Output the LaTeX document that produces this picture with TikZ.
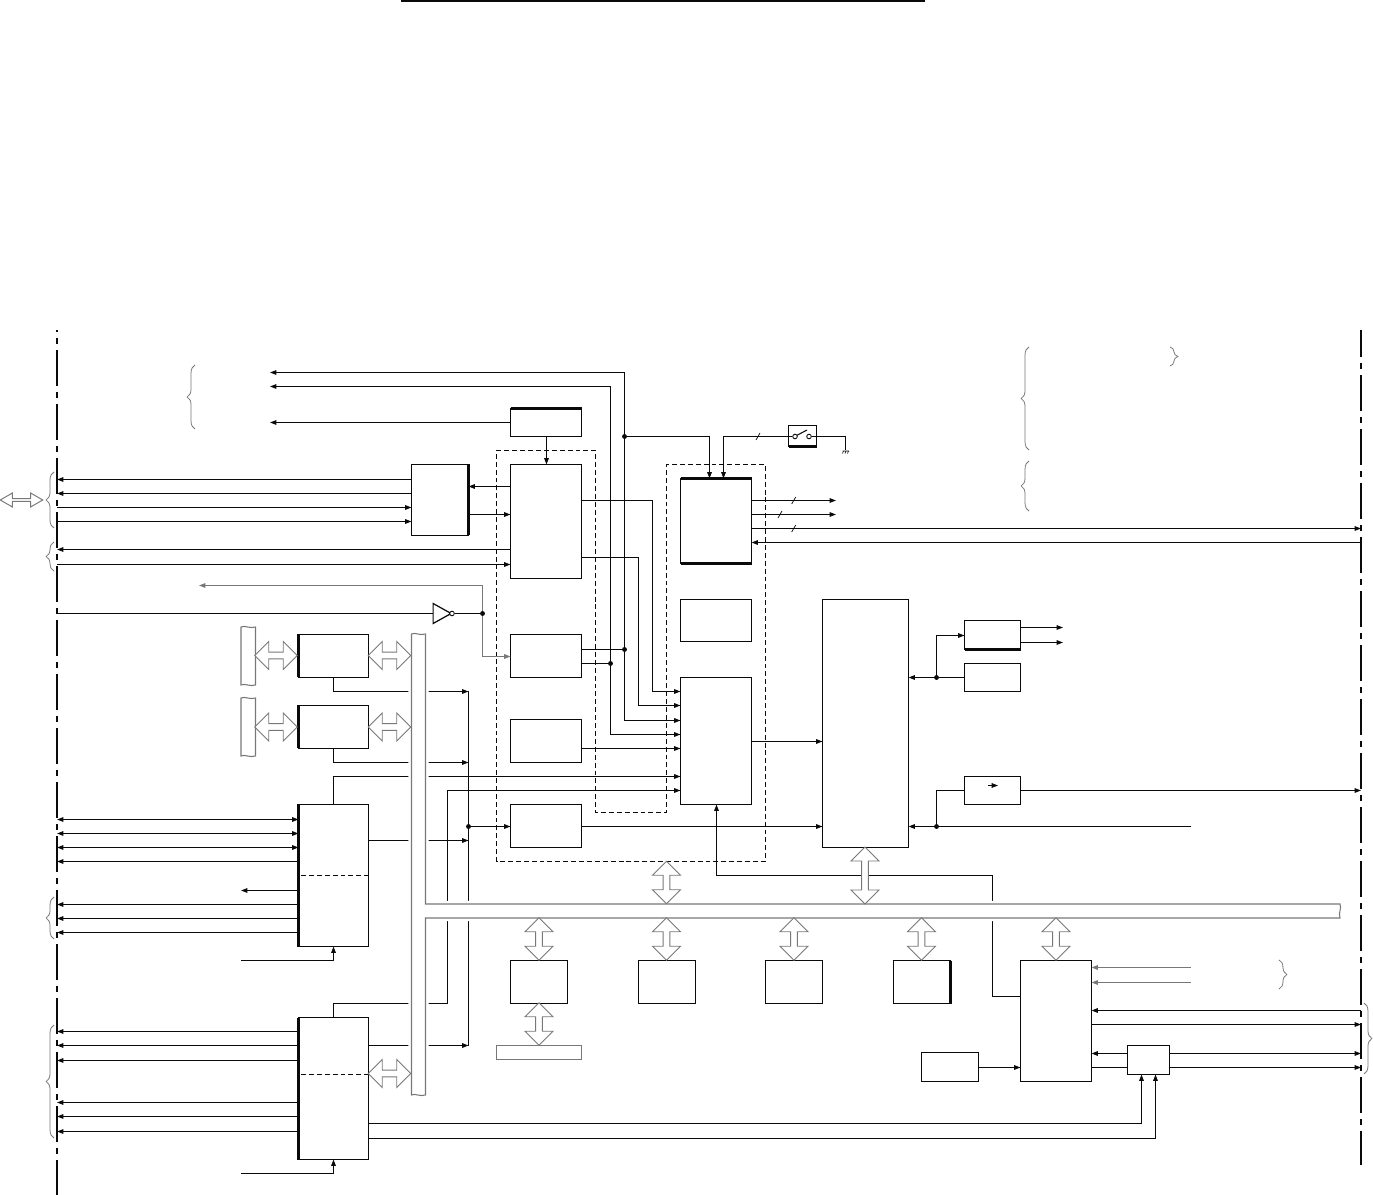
\documentclass[tikz,border=0pt]{standalone}
\usepackage{xcolor}
\definecolor{wireblack}{RGB}{10, 10, 10}
\definecolor{busgray}{RGB}{120, 120, 120}
\usepackage{tikz}
\usetikzlibrary{arrows.meta, shapes.arrows, shapes.geometric, decorations.pathreplacing}
\tikzset{
    blockbox/.style 2 args={draw=wireblack, line width=0.62pt, inner sep=0pt, outer sep=0pt, anchor=north west, minimum width=#1*0.02cm, minimum height=#2*0.02cm},
    edgeline/.style={line width=1.2pt, wireblack},
    wire/.style={line width=0.62pt, wireblack},
    graywire/.style={line width=0.62pt, busgray},
    jdot/.style={circle, fill=wireblack, inner sep=0pt, minimum size=2.8pt},
    swpin/.style={circle, draw=wireblack, fill=white, line width=0.5pt, inner sep=0pt, minimum size=2.6pt},
    dashzone/.style={line width=0.55pt, wireblack, dash pattern=on 2.8pt off 1.7pt},
    railline/.style={line width=1.13pt, wireblack, dash pattern=on 0.72cm off 0.12cm on 0.12cm off 0.12cm},
    curly/.style={draw=busgray, line width=0.45pt, decorate, decoration={brace, amplitude=4.5pt}},
    busarrow/.style={double arrow, draw=busgray, fill=white, line width=0.55pt, inner sep=0pt, double arrow head extend=0.03cm, minimum width=0.56cm, minimum height=0.85cm},
    busline/.style={draw=busgray, fill=white, line width=0.6pt},
}
\newcommand{\slashat}[2]{\draw[line width=0.4pt, wireblack] (#1-2,#2+3.5) -- (#1+2,#2-3.5);}

\begin{document}
\begin{tikzpicture}[x=0.02cm, y=-0.02cm, >={Stealth[length=3.6pt, width=2.6pt, inset=0pt]}]
    \useasboundingbox (0,0) rectangle (1373,1195);

    \coordinate (rail) at (57,0);
    \coordinate (railr) at (1361,0);
    \coordinate (tipa) at (270,0);
    \coordinate (tipb) at (241,0);
    \coordinate (tipc) at (836,0);
    \coordinate (tipd) at (1063,0);
    \coordinate (tipe) at (1191,0);
    \coordinate (tipf) at (199,0);
    \coordinate (feeda) at (610.5,0);
    \coordinate (feedb) at (624.5,0);
    \coordinate (feedc) at (468.5,0);
    \coordinate (feedd) at (447.5,0);
    \coordinate (feede) at (638.5,0);
    \coordinate (feedf) at (652.5,0);
    \coordinate (feedh) at (992.5,0);
    \coordinate (feedi) at (716.5,0);

    \node[blockbox={57}{71}] (ifbox) at (411.5,464.5) {};
    \node[blockbox={70}{43}] (roma) at (298.5,634.5) {};
    \node[blockbox={70}{43}] (romb) at (298.5,705.5) {};
    \node[blockbox={70}{142}] (cbox) at (298.5,804.5) {};
    \node[blockbox={70}{142}] (dbox) at (298.5,1017.5) {};
    \node[blockbox={71}{28}] (topbox) at (510.5,408.5) {};
    \node[blockbox={71}{114}] (cpu) at (510.5,464.5) {};
    \node[blockbox={71}{43}] (pbox) at (510.5,634.5) {};
    \node[blockbox={71}{43}] (sbox) at (510.5,719.5) {};
    \node[blockbox={71}{43}] (qbox) at (510.5,804.5) {};
    \node[blockbox={71}{85}] (ctrlbox) at (680.5,478.5) {};
    \node[blockbox={71}{42}] (nbox) at (680.5,599.5) {};
    \node[blockbox={71}{127}] (mbox) at (680.5,677.5) {};
    \node[blockbox={86}{248}] (large) at (822.5,599.5) {};
    \node[blockbox={56}{29}] (fbox) at (964.5,620.5) {};
    \node[blockbox={56}{28}] (gbox) at (964.5,663.5) {};
    \node[blockbox={56}{28}] (hbox) at (964.5,776.5) {};
    \node[blockbox={57}{43}] (rowa) at (510.5,960.5) {};
    \node[blockbox={57}{43}] (rowb) at (638.5,960.5) {};
    \node[blockbox={57}{43}] (rowc) at (765.5,960.5) {};
    \node[blockbox={57}{43}] (rowd) at (893.5,960.5) {};
    \node[blockbox={85}{14}, draw=busgray] (strip) at (496.5,1045.5) {};
    \node[blockbox={71}{121}] (iobox) at (1020.5,960.5) {};
    \node[blockbox={57}{29}] (clkbox) at (921.5,1052.5) {};
    \node[blockbox={42}{29}] (muxbox) at (1127.5,1045.5) {};
    \node[blockbox={28}{21}] (swbox) at (788.5,425.5) {};

    \draw[edgeline] (ifbox.north east) -- (ifbox.south east);
    \draw[edgeline] (topbox.north west) -- (topbox.north east);
    \draw[edgeline] (ctrlbox.north west) -- (ctrlbox.north east);
    \draw[edgeline] (ctrlbox.south west) -- (ctrlbox.south east);
    \draw[edgeline] (swbox.south west) -- (swbox.south east);
    \draw[edgeline] (fbox.south west) -- (fbox.south east);
    \draw[edgeline] (roma.north west) -- (roma.south west);
    \draw[edgeline] (romb.north west) -- (romb.south west);
    \draw[edgeline] (cbox.north west) -- (cbox.south west);
    \draw[edgeline] (dbox.north west) -- (dbox.south west);
    \draw[edgeline] (rowd.north east) -- (rowd.south east);
    \draw[dashzone] (301,875.5) -- (cbox.east |- 0,875.5);
    \draw[dashzone] (301,1074.5) -- (dbox.east |- 0,1074.5);
    \draw[dashzone] (496.5,450.5) -- (595.5,450.5) -- (595.5,812.5) -- (666.5,812.5) -- (666.5,464.5) -- (765.5,464.5) -- (765.5,861.5) -- (496.5,861.5) -- cycle;

    \draw[railline, dash phase=0.68cm] (57,330) -- (57,1195);
    \draw[railline, dash phase=0.18cm] (1361,330) -- (1361,1165);
    \draw[line width=1pt, wireblack] (401,1) -- (925,1);

    \draw[curly] (195,429) -- (195,365);
    \draw[curly] (54,528) -- (54,472);
    \draw[curly] (54,571) -- (54,542);
    \draw[curly] (54,939) -- (54,897);
    \draw[curly] (54,1138) -- (54,1025);
    \draw[curly] (1029,450) -- (1029,347);
    \draw[curly] (1029,511) -- (1029,461);
    \draw[curly] (1170,347) -- (1170,366);
    \draw[curly] (1279,960) -- (1279,989);
    \draw[curly] (1364,1003) -- (1364,1074);

    \node[jdot] (dotba) at (624.5,436.5) {};
    \node[jdot] (dotbb) at (624.5,649.5) {};
    \node[jdot] (dotaa) at (610.5,663.5) {};
    \node[jdot] (dotc) at (468.5,826.5) {};
    \node[jdot] (dotd) at (482.5,613.5) {};
    \node[jdot] (dote) at (936.5,677.5) {};
    \node[jdot] (dotf) at (936.5,826.5) {};
    \node[swpin] (swa) at (795,436.5) {};
    \node[swpin] (swb) at (809,436.5) {};
    \coordinate (gnd) at (845.5,450);

    \node[draw=wireblack, fill=white, line width=0.7pt, isosceles triangle, isosceles triangle stretches, inner sep=0pt, minimum width=0.4cm, minimum height=0.36cm, anchor=lower side] (inv) at (432.5,613.5) {};
    \node[swpin] (invb) at (452,613.5) {};

    \draw[<->, wire] (tipa |- 0,372.5) -- (feedb |- 0,372.5) -- (feedb |- 0,720.5) -- (mbox.west |- 0,720.5);
    \draw[<->, wire] (tipa |- 0,386.5) -- (feeda |- 0,386.5) -- (feeda |- 0,734.5) -- (mbox.west |- 0,734.5);
    \draw[<-, wire] (tipa |- 0,422.5) -- (topbox.west |- 0,422.5);
    \draw[->, wire] (topbox.south -| 546.5,0) -- (cpu.north -| 546.5,0);

    \draw[<-, wire] (rail |- 0,479.5) -- (ifbox.west |- 0,479.5);
    \draw[<-, wire] (rail |- 0,493.5) -- (ifbox.west |- 0,493.5);
    \draw[->, wire] (rail |- 0,507.5) -- (ifbox.west |- 0,507.5);
    \draw[->, wire] (rail |- 0,521.5) -- (ifbox.west |- 0,521.5);
    \draw[<-, wire] (ifbox.east |- 0,486.5) -- (cpu.west |- 0,486.5);
    \draw[->, wire] (ifbox.east |- 0,514.5) -- (cpu.west |- 0,514.5);
    \draw[<-, wire] (rail |- 0,549.5) -- (cpu.west |- 0,549.5);
    \draw[->, wire] (rail |- 0,564.5) -- (cpu.west |- 0,564.5);

    \draw[wire] (rail |- 0,613.5) -- (inv.lower side);
    \draw[wire] (invb) -- (dotd);
    \draw[->, graywire] (dotd) |- (tipf |- 0,585.5);
    \draw[->, graywire] (dotd) |- (pbox.west |- 0,656.5);

    \draw[->, wire] (cpu.east |- 0,500.5) -| (feedf |- 0,691.5) -- (mbox.west |- 0,691.5);
    \draw[->, wire] (cpu.east |- 0,557.5) -| (feede |- 0,705.5) -- (mbox.west |- 0,705.5);
    \draw[wire] (pbox.east |- dotbb) -- (dotbb);
    \draw[wire] (pbox.east |- dotaa) -- (dotaa);
    \draw[->, wire] (sbox.east |- 0,748.5) -- (mbox.west |- 0,748.5);
    \draw[->, wire] (dotba) -| (ctrlbox.north -| 709.5,0);
    \draw[->, wire] (swa) -| (ctrlbox.north -| 723.5,0);
    \draw[wire] (swb) -| (gnd);
    \draw[line width=0.6pt, wireblack] (797,435.3) -- (807,430);
    \draw[line width=0.35pt, wireblack] (842.5,451) -- (849,451) (843.5,451) -- (842.5,453.5) (846,451) -- (845,453.5) (848.5,451) -- (847.5,453.5);

    \draw[->, wire] (ctrlbox.east |- 0,500.5) -- (tipc |- 0,500.5);
    \draw[->, wire] (ctrlbox.east |- 0,514.5) -- (tipc |- 0,514.5);
    \draw[->, wire] (ctrlbox.east |- 0,528.5) -- (railr |- 0,528.5);
    \draw[<-, wire] (ctrlbox.east |- 0,542.5) -- (railr |- 0,542.5);
    \slashat{793.7}{500.5}
    \slashat{780}{514.5}
    \slashat{793.7}{528.5}
    \slashat{758}{436.5}

    \draw[->, wire] (roma.south) |- (feedc |- 0,691.5);
    \draw[->, wire] (romb.south) |- (feedc |- 0,762.5);
    \draw[->, wire] (cbox.north) |- (mbox.west |- 0,776.5);
    \draw[->, wire] (dbox.north) |- (feedd |- 0,1003.5) -- (feedd |- 0,790.5) -- (mbox.west |- 0,790.5);
    \draw[wire] (feedc |- 0,691.5) -- (feedc |- 0,1045.5);
    \draw[->, wire] (cbox.east |- 0,840.5) -- (feedc |- 0,840.5);
    \draw[->, wire] (dbox.east |- 0,1045.5) -- (feedc |- 0,1045.5);
    \draw[->, wire] (dotc) -- (qbox.west |- dotc);

    \draw[<->, wire] (rail |- 0,819.5) -- (cbox.west |- 0,819.5);
    \draw[<->, wire] (rail |- 0,833.5) -- (cbox.west |- 0,833.5);
    \draw[<->, wire] (rail |- 0,847.5) -- (cbox.west |- 0,847.5);
    \draw[<-, wire] (rail |- 0,861.5) -- (cbox.west |- 0,861.5);
    \draw[<-, wire] (tipb |- 0,890.5) -- (cbox.west |- 0,890.5);
    \draw[<-, wire] (rail |- 0,904.5) -- (cbox.west |- 0,904.5);
    \draw[<-, wire] (rail |- 0,918.5) -- (cbox.west |- 0,918.5);
    \draw[<-, wire] (rail |- 0,932.5) -- (cbox.west |- 0,932.5);
    \draw[->, wire] (tipb |- 0,960.5) -| (cbox.south);

    \draw[<-, wire] (rail |- 0,1031.5) -- (dbox.west |- 0,1031.5);
    \draw[<-, wire] (rail |- 0,1045.5) -- (dbox.west |- 0,1045.5);
    \draw[<-, wire] (rail |- 0,1060.5) -- (dbox.west |- 0,1060.5);
    \draw[<-, wire] (rail |- 0,1102.5) -- (dbox.west |- 0,1102.5);
    \draw[<-, wire] (rail |- 0,1116.5) -- (dbox.west |- 0,1116.5);
    \draw[<-, wire] (rail |- 0,1131.5) -- (dbox.west |- 0,1131.5);
    \draw[->, wire] (tipb |- 0,1173.5) -| (dbox.south);
    \draw[->, wire] (dbox.east |- 0,1123.5) -| (muxbox.south -| 1141.5,0);
    \draw[->, wire] (dbox.east |- 0,1138.5) -| (muxbox.south -| 1155.5,0);

    \draw[->, wire] (mbox.east |- 0,741.5) -- (large.west |- 0,741.5);
    \draw[->, wire] (qbox.east |- dotc) -- (large.west |- dotc);
    \draw[->, wire] (iobox.west |- 0,996.5) -| (feedh |- 0,875.5) -| (mbox.south -| feedi);

    \draw[->, wire] (dote) -- (large.east |- dote);
    \draw[wire] (dote) -- (gbox.west |- dote);
    \draw[->, wire] (dote) |- (fbox.west |- 0,635.5);
    \draw[->, wire] (fbox.east |- 0,627.5) -- (tipd |- 0,627.5);
    \draw[->, wire] (fbox.east |- 0,642.5) -- (tipd |- 0,642.5);
    \draw[->, wire] (tipe |- dotf) -- (large.east |- dotf);
    \draw[wire] (dotf) |- (hbox.west |- 0,790.5);
    \draw[->, wire] (hbox.east |- 0,790.5) -- (railr |- 0,790.5);
    \draw[->, line width=0.5pt, wireblack] (988,785.5) -- (998,785.5);

    \draw[<-, graywire] (iobox.east |- 0,967.5) -- (tipe |- 0,967.5);
    \draw[<-, graywire] (iobox.east |- 0,982.5) -- (tipe |- 0,982.5);
    \draw[<-, wire] (iobox.east |- 0,1010.5) -- (railr |- 0,1010.5);
    \draw[->, wire] (iobox.east |- 0,1024.5) -- (railr |- 0,1024.5);
    \draw[<-, wire] (iobox.east |- 0,1053.5) -- (muxbox.west |- 0,1053.5);
    \draw[wire] (iobox.east |- 0,1067.5) -- (muxbox.west |- 0,1067.5);
    \draw[->, wire] (muxbox.east |- 0,1053.5) -- (railr |- 0,1053.5);
    \draw[->, wire] (muxbox.east |- 0,1067.5) -- (railr |- 0,1067.5);
    \draw[->, wire] (clkbox.east |- 0,1067.5) -- (iobox.west |- 0,1067.5);

    \draw[busline] (241,627) .. controls (245,625) and (250,629) .. (255.5,627) -- (255.5,685) .. controls (250,687) and (245,683) .. (241,685) -- cycle;
    \draw[busline] (241,698) .. controls (245,696) and (250,700) .. (255.5,698) -- (255.5,756) .. controls (250,758) and (245,754) .. (241,756) -- cycle;
    \draw[busline, preaction={draw=white, line width=3.6pt}] (411.5,634) .. controls (415,632) and (420,636) .. (425.5,634) -- (425.5,904) -- (1340,904) .. controls (1342,908) and (1338,913) .. (1340,918) -- (425.5,918) -- (425.5,1095) .. controls (420,1097) and (415,1093) .. (411.5,1095) -- cycle;

    \node[busarrow] (arra) at (276,655.5) {};
    \node[busarrow] (arrb) at (389.5,655.5) {};
    \node[busarrow] (arrc) at (276,727) {};
    \node[busarrow] (arrd) at (389.5,727) {};
    \node[busarrow] (arre) at (389.5,1073.5) {};
    \node[busarrow, rotate=90] (arrf) at (539,939) {};
    \node[busarrow, rotate=90] (arrg) at (539,1024) {};
    \node[busarrow, rotate=90] (arrh) at (666.5,939) {};
    \node[busarrow, rotate=90] (arri) at (666.5,882.5) {};
    \node[busarrow, rotate=90] (arrj) at (794,939) {};
    \node[busarrow, rotate=90] (arrk) at (921.5,939) {};
    \node[busarrow, rotate=90] (arrl) at (1056,939) {};
    \node[busarrow, rotate=90, minimum height=1.14cm] (arrm) at (865,875.5) {};
    \node[busarrow, double arrow tip angle=60, double arrow head extend=0.04cm, minimum width=0.28cm] (arrn) at (21.5,500) {};
\end{tikzpicture}
\end{document}
